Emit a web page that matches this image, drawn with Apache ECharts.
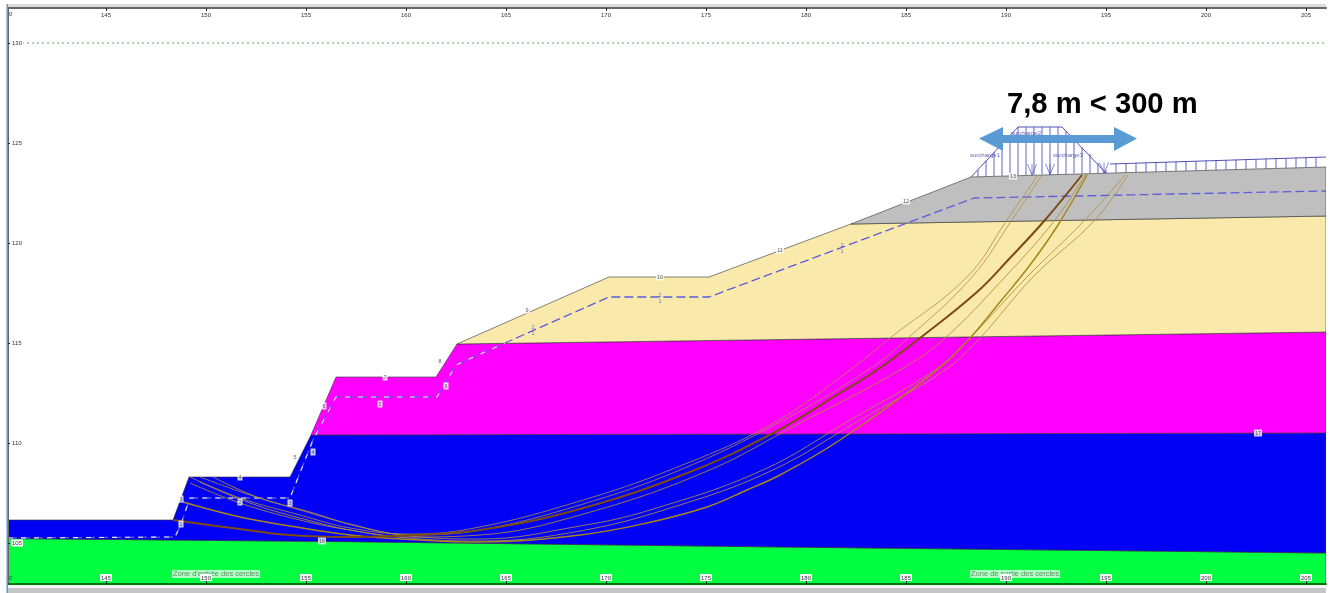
<!DOCTYPE html>
<html><head><meta charset="utf-8">
<style>html,body{margin:0;padding:0;background:#fff}#c{width:1332px;height:593px;filter:blur(0.35px)}</style>
<script src="https://cdn.jsdelivr.net/npm/echarts@6/dist/echarts.min.js"></script>
</head><body><div id="c"></div><script>
const xTicks=[145,150,155,160,165,170,175,180,185,190,195,200,205];
const yTicks=[105,110,115,120,125,130];
const limitLine=[[140.8,130],[206,130]];
const layerGreen=[[140.1,105.225],[157.2,105.065],[178.7,104.8],[206,104.5],[206,102.95],[140.1,102.95]];
const layerBlue=[[140.1,106.15],[148.35,106.15],[149.15,108.3],[154.2,108.3],[155.25,110.4],[206,110.5],[206,104.5],[178.7,104.8],[157.2,105.065],[140.1,105.225]];
const layerMagenta=[[155.25,110.4],[156.5,113.3],[161.5,113.3],[162.55,114.95],[206,115.55],[206,110.5]];
const layerCream=[[162.55,114.95],[170.15,118.3],[175.15,118.3],[182.25,120.95],[206,121.35],[206,115.55]];
const layerGrey=[[182.25,120.95],[188.25,123.3],[206,123.8],[206,121.35]];
const waterLine=[[140.1,105.25],[148.45,105.3],[148.75,105.95],[149.2,107.25],[154.2,107.25],[155.35,110.15],[156.5,112.3],[161.55,112.3],[162.5,113.9],[164.95,115],[170.15,117.3],[175.15,117.3],[188.4,122.25],[206,122.6]];
const circleMain=[[148.35,106.15],[151.7,105.7],[154.2,105.4],[157.2,105.3],[160.35,105.4],[163.7,105.65],[168.7,106.7],[174.2,108.55],[178.45,110.55],[181.7,112.5],[183.55,113.65],[185.7,115.25],[188.55,117.55],[190.2,119.25],[191.95,121.15],[193.8,123.4]];
const circleGold=[[148.85,107.05],[151.7,106.3],[154.2,105.85],[157.2,105.4],[160.7,105.15],[163.7,105.05],[168.7,105.4],[172.05,106],[175.05,106.8],[177.05,107.65],[178.7,108.4],[181.7,110.15],[186.55,113.65],[188.2,115.25],[189.7,117.05],[191.2,118.9],[192.6,120.9],[194.05,123.4]];
const circleA=[[149.2,108.3],[151.7,107.25],[154.7,106.4],[157.2,105.75],[160.2,105.45],[163.7,105.8],[168.7,107.1],[173.2,108.65],[178.2,110.9],[182.2,113.65],[184.2,115.25],[188.05,118.3],[190.05,121.15],[191.6,123.4]];
const circleB=[[149.7,108.3],[152.2,107.4],[154.7,106.65],[157.2,105.95],[160.2,105.4],[163.7,105.65],[168.7,106.9],[173.7,108.65],[178.7,111.05],[183.1,113.65],[185.1,115.25],[188.3,118.3],[190.3,121.15],[191.8,123.4]];
const circleC=[[149.2,108],[151.7,107],[154.7,106.15],[157.2,105.65],[160.2,105.3],[163.7,105.4],[168.7,106.4],[174.95,108.55],[179.7,111],[184.7,113.65],[186.95,115.25],[189.95,118.3],[192.45,121.15],[193.95,123.4]];
const circleD=[[150.35,108.3],[152.55,107.3],[155.2,106.55],[157.7,105.8],[160.7,105.3],[163.7,105.2],[168.7,105.85],[172.2,106.65],[177.85,108.65],[182.2,111.15],[186.45,113.65],[188.2,115.25],[191.05,118.3],[193.95,121.15],[195.95,123.4]];
const circleE=[[149.7,108.05],[152.2,107],[154.7,106.25],[157.45,105.6],[160.7,105.2],[163.7,105.1],[168.7,105.6],[173.7,106.9],[178.35,108.65],[182.7,111.15],[186.95,113.65],[188.7,115.25],[191.35,118.3],[194.45,121.15],[196.1,123.4]];
const surchargeOutline=[[188.25,123.3],[190.6,125.8],[192.8,125.8],[195,123.5]];
const surchargeRightOutline=[[195.2,123.95],[206,124.3]];
const surchargeHatch=[[188.6,123.65,123.3],[189,124.1,123.32],[189.4,124.55,123.34],[189.8,124.95,123.36],[190.2,125.4,123.38],[190.6,125.8,123.4],[191,125.8,123.41],[191.4,125.8,123.42],[191.8,125.8,123.43],[192.2,125.8,123.44],[192.6,125.8,123.45],[193,125.6,123.46],[193.4,125.2,123.47],[193.8,124.8,123.48],[194.2,124.45,123.49],[194.6,124,123.5],[195,123.65,123.5]];
const surchargeRightHatch=[[195.5,123.97,123.52],[196,123.99,123.53],[196.5,124,123.55],[197,124.02,123.56],[197.5,124.04,123.57],[198,124.05,123.59],[198.5,124.07,123.6],[199,124.09,123.61],[199.5,124.1,123.63],[200,124.12,123.64],[200.5,124.14,123.65],[201,124.15,123.67],[201.5,124.17,123.68],[202,124.19,123.69],[202.5,124.2,123.71],[203,124.22,123.72],[203.5,124.24,123.73],[204,124.25,123.75],[204.5,124.27,123.76],[205,124.29,123.77],[205.5,124.3,123.79]];
const surchargeAnchors=[[191.3,123.42],[192.2,123.44],[194.9,123.5]];
const surchargeNames=[[188.95,124.4,'surcharge1'],[191,125.5,'surcharge2'],[193.1,124.4,'surcharge3']];
const pointLabels=[[148.75,107.2,'3'],[151.7,108.3,'4'],[154.45,109.3,'5'],[155.9,111.85,'6'],[158.95,113.3,'7'],[161.7,114.1,'8'],[166.05,116.65,'9'],[172.7,118.3,'10'],[178.7,119.65,'11'],[185,122.1,'12'],[190.35,123.35,'13'],[155.8,105.1,'16'],[202.6,110.5,'17'],[148.75,105.95,'1'],[151.7,107.05,'2'],[154.2,107,'3'],[155.35,109.55,'4'],[158.7,111.95,'5'],[162,112.85,'6']];
const slopeMarks=[[166.35,115.65,'2\n1'],[172.7,117.25,'2\n1'],[181.8,119.75,'2\n1']];
const zoneLabels=[[150.5,103.45,"Zone d'entrée des cercles"],[190.45,103.45,'Zone de sortie des cercles']];
const annotationText='7,8 m < 300 m';

const poly=(data,fill)=>({type:'custom',data,z:2,silent:true,clip:true,
  renderItem:(p,api)=>p.dataIndex?null:{type:'polygon',shape:{points:data.map(d=>api.coord(d))},
    style:{fill,stroke:'rgba(50,50,50,.75)',lineWidth:0.8}}});
const curve=(data,color,width)=>({type:'line',data,smooth:0.4,symbol:'none',z:4,silent:true,lineStyle:{color,width}});
const hatch=data=>({type:'custom',data,z:3,silent:true,
  renderItem:(p,api)=>{const a=api.coord([api.value(0),api.value(1)]),b=api.coord([api.value(0),api.value(2)]);
    return {type:'line',shape:{x1:a[0],y1:a[1],x2:b[0],y2:b[1]},style:{stroke:'#5050bc',lineWidth:0.9}};}});
const texts=(data,label)=>({type:'scatter',data,symbolSize:0,z:6,silent:true,
  label:{show:true,position:'inside',formatter:p=>p.value[2],...label}});
const xAxisBase=(position,color)=>({type:'value',position,min:140.1,max:206,z:10,splitLine:{show:false},
  axisLine:{show:true,onZero:false,lineStyle:{color,width:2}},
  axisTick:{show:true,inside:true,length:3,customValues:xTicks,lineStyle:{color:'#222'}},
  axisLabel:{show:true,inside:true,customValues:xTicks,margin:3,fontSize:6,color:'#333',fontFamily:'Liberation Sans',
    backgroundColor:'#fff',padding:[1,1,0,1],formatter:v=>String(v)}});
const option={animation:false,
  grid:{left:8,top:8,width:1318,height:576},
  xAxis:[xAxisBase('bottom','#0a7010'),xAxisBase('top','#666')],
  yAxis:{type:'value',min:102.95,max:131.75,z:10,splitLine:{show:false},
    axisLine:{show:true,onZero:false,lineStyle:{color:'#666',width:2}},
    axisTick:{show:true,inside:true,length:2,customValues:yTicks,lineStyle:{color:'#222'}},
    axisLabel:{show:true,inside:true,customValues:yTicks,margin:3,fontSize:6,color:'#333',fontFamily:'Liberation Sans',
      backgroundColor:'#fff',padding:[1,1,0,1],formatter:v=>String(v)}},
  series:[
    poly(layerGreen,'#00ff40'),poly(layerBlue,'#0000f5'),poly(layerMagenta,'#ff00ff'),poly(layerCream,'#f9e9ab'),poly(layerGrey,'#bfbfbf'),
    {type:'line',data:limitLine,symbol:'none',z:3,silent:true,lineStyle:{color:'#5aa85a',width:1,type:[2,3]}},
    {type:'line',data:waterLine,symbol:'none',z:3,silent:true,lineStyle:{color:'#5c5cdc',width:1.3,type:[9,4]}},
    {type:'line',data:waterLine.slice(0,10),symbol:'none',z:3,silent:true,lineStyle:{color:'#ffffff',opacity:.85,width:1.1,type:[5,8]}},
    hatch(surchargeHatch),hatch(surchargeRightHatch),
    {type:'line',data:surchargeOutline,symbol:'none',z:3,silent:true,lineStyle:{color:'#5050b8',width:1}},
    {type:'line',data:surchargeRightOutline,symbol:'none',z:3,silent:true,lineStyle:{color:'#5050b8',width:1}},
    {type:'scatter',data:surchargeAnchors,symbol:'path://M0 0L5 10L10 0M5 0L5 10',symbolSize:[9,11],symbolOffset:[0,-5],z:4,silent:true,
      itemStyle:{color:'none',borderColor:'#4646b4',borderWidth:0.8}},
    curve(circleA,'rgba(176,142,70,.8)',1),curve(circleB,'rgba(176,142,70,.8)',1),curve(circleC,'rgba(176,142,50,.85)',1),
    curve(circleD,'rgba(176,142,70,.85)',1),curve(circleE,'rgba(176,142,70,.85)',1),
    curve(circleGold,'#a8861c',1.5),curve(circleMain,'#7c4a12',2),
    texts(pointLabels,{fontSize:5.5,color:'#333',backgroundColor:'#fff',padding:[1,1,0,1],fontFamily:'Liberation Sans'}),
    texts(slopeMarks,{fontSize:5.5,lineHeight:6,color:'#4646c8',fontFamily:'Liberation Sans'}),
    texts(surchargeNames,{fontSize:6,color:'#3c3c96',fontFamily:'Liberation Sans'}),
    texts(zoneLabels,{fontSize:7.5,color:'#4f6b4f',backgroundColor:'rgba(255,255,255,.85)',padding:[0,1],fontFamily:'Liberation Sans'})
  ],
  graphic:[
    {type:'rect',z:20,shape:{x:8,y:4,width:1318,height:3},style:{fill:'#dcdcdc'}},
    {type:'rect',z:20,shape:{x:6.5,y:4,width:1.5,height:589},style:{fill:'#5b9bd5'}},
    {type:'rect',z:20,shape:{x:8,y:585,width:1318,height:3},style:{fill:'#f4f4f4'}},
    {type:'rect',z:20,shape:{x:8,y:588,width:1318,height:5},style:{fill:'#c6c6c6'}},
    {type:'text',z:20,x:9,y:11,style:{text:'0',fontSize:6,fill:'#333',fontFamily:'Liberation Sans'}},
    {type:'text',z:20,x:9,y:575,style:{text:'0',fontSize:6,fill:'#333',fontFamily:'Liberation Sans'}},
    {type:'polygon',z:20,shape:{points:[[979,138.5],[1003,127],[1003,135],[1114,135],[1114,127],[1137,138.5],[1114,151],[1114,143],[1003,143],[1003,151]]},style:{fill:'#5b9bd5'}},
    {type:'text',z:21,x:1007,y:90,style:{text:annotationText,fontSize:29.2,fontWeight:'bold',fill:'#000',fontFamily:'Liberation Sans'}}
  ]};
echarts.init(document.getElementById('c'),null,{renderer:'canvas'}).setOption(option);
</script></body></html>
